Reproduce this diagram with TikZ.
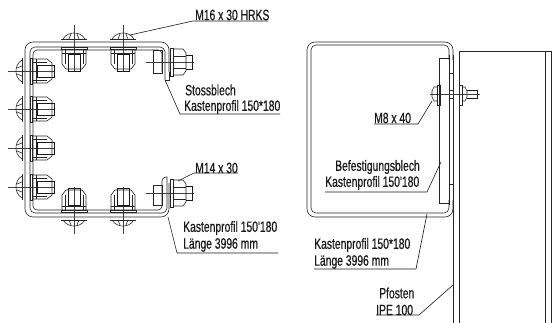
\documentclass[tikz,border=0pt]{standalone}
\usepackage{fontspec, tkz-euclide}
\newfontfamily\cadfont[FakeStretch=0.69, FakeBold=0.5]{Liberation Sans}
\tikzset{
    part/.style={line width=0.6pt, black!85},
    thick part/.style={line width=0.9pt, black!90},
    axis/.style={line width=0.4pt, black!75},
    leader/.style={line width=0.6pt, black!90},
    lbl/.style={font=\cadfont\fontsize{15}{15}\selectfont, inner sep=0pt, anchor=west, text=black!90},
    bolt/.pic={
        \draw[axis] (-17,0) -- (30,0);
        \draw[part] (-3,-13) -- (-3,13);
        \draw[part] (-3,-11) .. controls (-8,-8) and (-9,-3) .. (-9,0) .. controls (-9,3) and (-8,8) .. (-3,11);
        \draw[part] (-3,-5) -- (-8,-3) (-3,5) -- (-8,3);
        \draw[part] (5,-13) rectangle (7,13);
        \draw[part] (7,-12) -- (22,-12) -- (27,-8) -- (27,8) -- (22,12) -- (7,12);
        \draw[part] (11,-12) -- (11,12);
        \draw[part] (7,-9) -- (22,-9) (7,9) -- (22,9);
        \draw[thick part] (12,-6) -- (29,-6) -- (29,6) -- (12,6) -- cycle;
    }
}
\begin{document}
\begin{tikzpicture}[x=1pt, y=-1pt]
    \useasboundingbox (0,0) rectangle (555,323);
    % linke Ansicht
    \draw[part, rounded corners=8pt] (169,72) -- (169,42) -- (25,42) -- (25,217) -- (169,217) -- (169,183);
    \draw[part, rounded corners=5pt] (165,80) -- (165,47) -- (30,47) -- (30,213) -- (167,213) -- (167,177);
    \draw[part, rounded corners=4pt] (162,72) -- (162,50) -- (33,50) -- (33,210) -- (162,210) -- (162,177) -- (167,177);
    \draw[part] (165,80) -- (169,80) -- (169,72);
    \foreach \xb in {74,123}{
        \pic[rotate=-90] at (\xb,42) {bolt};
        \pic[rotate=90] at (\xb,217) {bolt};
    }
    \foreach \yb in {71,109,148,187}{
        \pic at (25,\yb) {bolt};
    }
    % seitliche Schrauben
    \foreach \yb/\ha/\hb in {62/50/73, 193/185/205}{
        \draw[axis] (146,\yb) -- (194,\yb);
        \draw[part] (153,\ha) rectangle (162,\hb);
        \draw[part] (170,\yb-14) rectangle (173,\yb+14);
        \draw[part] (173,\yb-13) -- (183,\yb-13) -- (186,\yb-9) -- (186,\yb+9) -- (183,\yb+13) -- (173,\yb+13);
        \draw[part] (173,\yb-6) -- (186,\yb-6) (173,\yb+6) -- (186,\yb+6);
        \draw[thick part] (186,\yb-7) -- (192,\yb-7) -- (192,\yb+7) -- (186,\yb+7);
    }
    % rechte Ansicht
    \draw[part, rounded corners=8pt] (453,60) -- (453,42) -- (307,42) -- (307,217) -- (453,217) -- (453,200);
    \draw[part, rounded corners=5pt] (449,60) -- (449,45) -- (311,45) -- (311,213) -- (449,213) -- (449,200);
    \draw[part] (453,55) -- (453,323) (449,55) -- (449,205);
    \draw[part] (459,323) -- (459,51) -- (551,51) -- (551,323) (545,51) -- (545,323);
    \draw[part] (449,58) -- (439,58) -- (439,203) -- (449,203);
    \draw[part] (449,73) -- (453,73) (449,184) -- (453,184);
    \draw[part] (449,90) rectangle (453,98);
    \draw[axis] (430,94) -- (480,94);
    \draw[part] (437,85) rectangle (440,105);
    \draw[part] (437,87) -- (434,87) -- (432,91) -- (432,97) -- (434,101) -- (437,101);
    \draw[part] (459,85) rectangle (462,105);
    \draw[part] (462,87) -- (465,87) -- (467,91) -- (467,97) -- (465,101) -- (462,101);
    \draw[thick part] (467,90) -- (477,90) -- (477,98) -- (467,98);
    % Texte
    \node[lbl] (m16) at (195,15) {M16 x 30 HRKS};
    \node[lbl] (stoss) at (185,90) {Stossblech};
    \node[lbl] (kasten a) at (184,107) {Kastenprofil 150*180};
    \node[lbl] (m14) at (195,168) {M14 x 30};
    \node[lbl] (kasten b) at (183,228) {Kastenprofil 150'180};
    \node[lbl] (laenge b) at (183,245) {Länge 3996 mm};
    \node[lbl] (m8) at (374,118) {M8 x 40};
    \node[lbl] (befest) at (335,167) {Befestigungsblech};
    \node[lbl] (kasten c) at (325,183) {Kastenprofil 150'180};
    \node[lbl] (kasten d) at (314,245) {Kastenprofil 150*180};
    \node[lbl] (laenge d) at (314,262) {Länge 3996 mm};
    \node[lbl] (pfosten) at (379,293) {Pfosten};
    \node[lbl] (ipe) at (376,310) {IPE 100};
    % Hinweislinien
    \tkzDefPoints{268/21/A1, 193/21/A2, 130/35/A3,
        280/114/B1, 180/114/B2, 165/80/B3,
        238/173/C1, 194/173/C2, 178/181/C3,
        278/253/D1, 177/253/D2, 168/217/D3,
        374/124/E1, 418/124/E2, 432/101/E3,
        325/192/F1, 427/192/F2, 441/162/F3,
        314/269/G1, 416/269/G2, 427/214/G3,
        376/315/H1, 419/315/H2, 453/285/H3}
    \foreach \ln in {A,B,C,D,E,F,G,H}{
        \draw[leader] (\ln1) -- (\ln2) -- (\ln3);
    }
\end{tikzpicture}
\end{document}
